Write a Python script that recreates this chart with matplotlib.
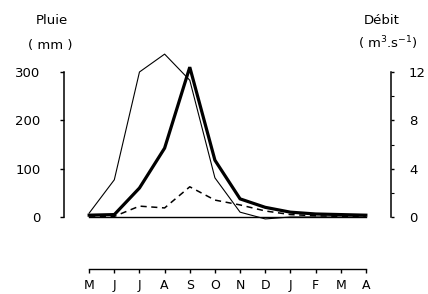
import matplotlib
matplotlib.use("Agg")
import matplotlib.pyplot as plt
import numpy as np

months = ["M", "J", "J", "A", "S", "O", "N", "D", "J", "F", "M", "A"]
pluie_mm = [8, 77, 300, 337, 283, 81, 10, -4, 0, 0, 0, 0]
debit_fort = [0.15, 0.2, 2.4, 5.7, 12.4, 4.7, 1.5, 0.8, 0.4, 0.25, 0.2, 0.15]
debit_tirets = [0.0, 0.05, 0.9, 0.75, 2.5, 1.4, 1.0, 0.5, 0.2, 0.1, 0.05, 0.0]
debit_nul = [0, 0, 0, 0, 0, 0, 0, 0, 0, 0, 0, 0]
left_ticks = [0, 100, 200, 300]
right_ticks = [0, 4, 8, 12]
right_minor = [2, 6, 10]

W, H = 428, 294
fig = plt.figure(figsize=(W / 100, H / 100), dpi=100)

def frac(x0, y0, x1, y1):
    return [x0 / W, 1 - y1 / H, (x1 - x0) / W, (y1 - y0) / H]

x = np.arange(len(months))
px_per = 300 / 145.0
ax = fig.add_axes(frac(64, 50, 391, 225))
ax.set_xlim(-1, 12)
ax.set_ylim(-8 * px_per, (217 - 50) * px_per)
ax2 = ax.twinx()
ax2.set_ylim(np.array(ax.get_ylim()) / 25.0)

ax.plot(x, pluie_mm, color="black", lw=0.8)
ax2.plot(x, debit_fort, color="black", lw=2.3, solid_joinstyle="miter")
ax2.plot(x, debit_tirets, color="black", lw=1.1, dashes=(4, 3))
ax2.plot(x, debit_nul, color="black", lw=1.0)

for a in (ax, ax2):
    for s in ("top", "bottom"):
        a.spines[s].set_visible(False)
    a.set_xticks([])
ax.spines["right"].set_visible(False)
ax2.spines["left"].set_visible(False)
ax.spines["left"].set_bounds(0, 300)
ax.spines["left"].set_linewidth(1.1)
ax2.spines["right"].set_bounds(0, 12)
ax2.spines["right"].set_linewidth(1.1)

ax.set_yticks(left_ticks)
ax.set_yticklabels([str(v) for v in left_ticks])
ax.tick_params(axis="y", direction="out", length=3, width=1, labelsize=9.5, pad=14)
ax2.set_yticks(right_ticks)
ax2.set_yticklabels([str(v) for v in right_ticks])
ax2.set_yticks(right_minor, minor=True)
ax2.tick_params(axis="y", which="major", direction="out", length=2, width=1, labelsize=9.5, pad=11)
ax2.tick_params(axis="y", which="minor", direction="out", length=2, width=0.8)

# month axis
axm = fig.add_axes(frac(64, 240, 391, 269))
axm.set_xlim(-1, 12)
axm.set_ylim(0, 1)
for s in ("top", "left", "right"):
    axm.spines[s].set_visible(False)
axm.spines["bottom"].set_bounds(0, 11)
axm.spines["bottom"].set_linewidth(1.0)
axm.set_yticks([])
axm.set_xticks(x)
axm.set_xticklabels(months)
axm.tick_params(axis="x", direction="out", length=3, width=1, labelsize=9, pad=4)
axm.patch.set_alpha(0)

fig.text(52 / W, 1 - 20 / H, "Pluie", ha="center", va="center", fontsize=9.5)
fig.text(50 / W, 1 - 45 / H, "( mm )", ha="center", va="center", fontsize=9.5)
fig.text(382 / W, 1 - 20 / H, "Débit", ha="center", va="center", fontsize=9.5)
fig.text(388 / W, 1 - 43 / H, r"( m$^3$.s$^{-1}$)", ha="center", va="center", fontsize=9.5)

fig.savefig("out.png", dpi=100)
